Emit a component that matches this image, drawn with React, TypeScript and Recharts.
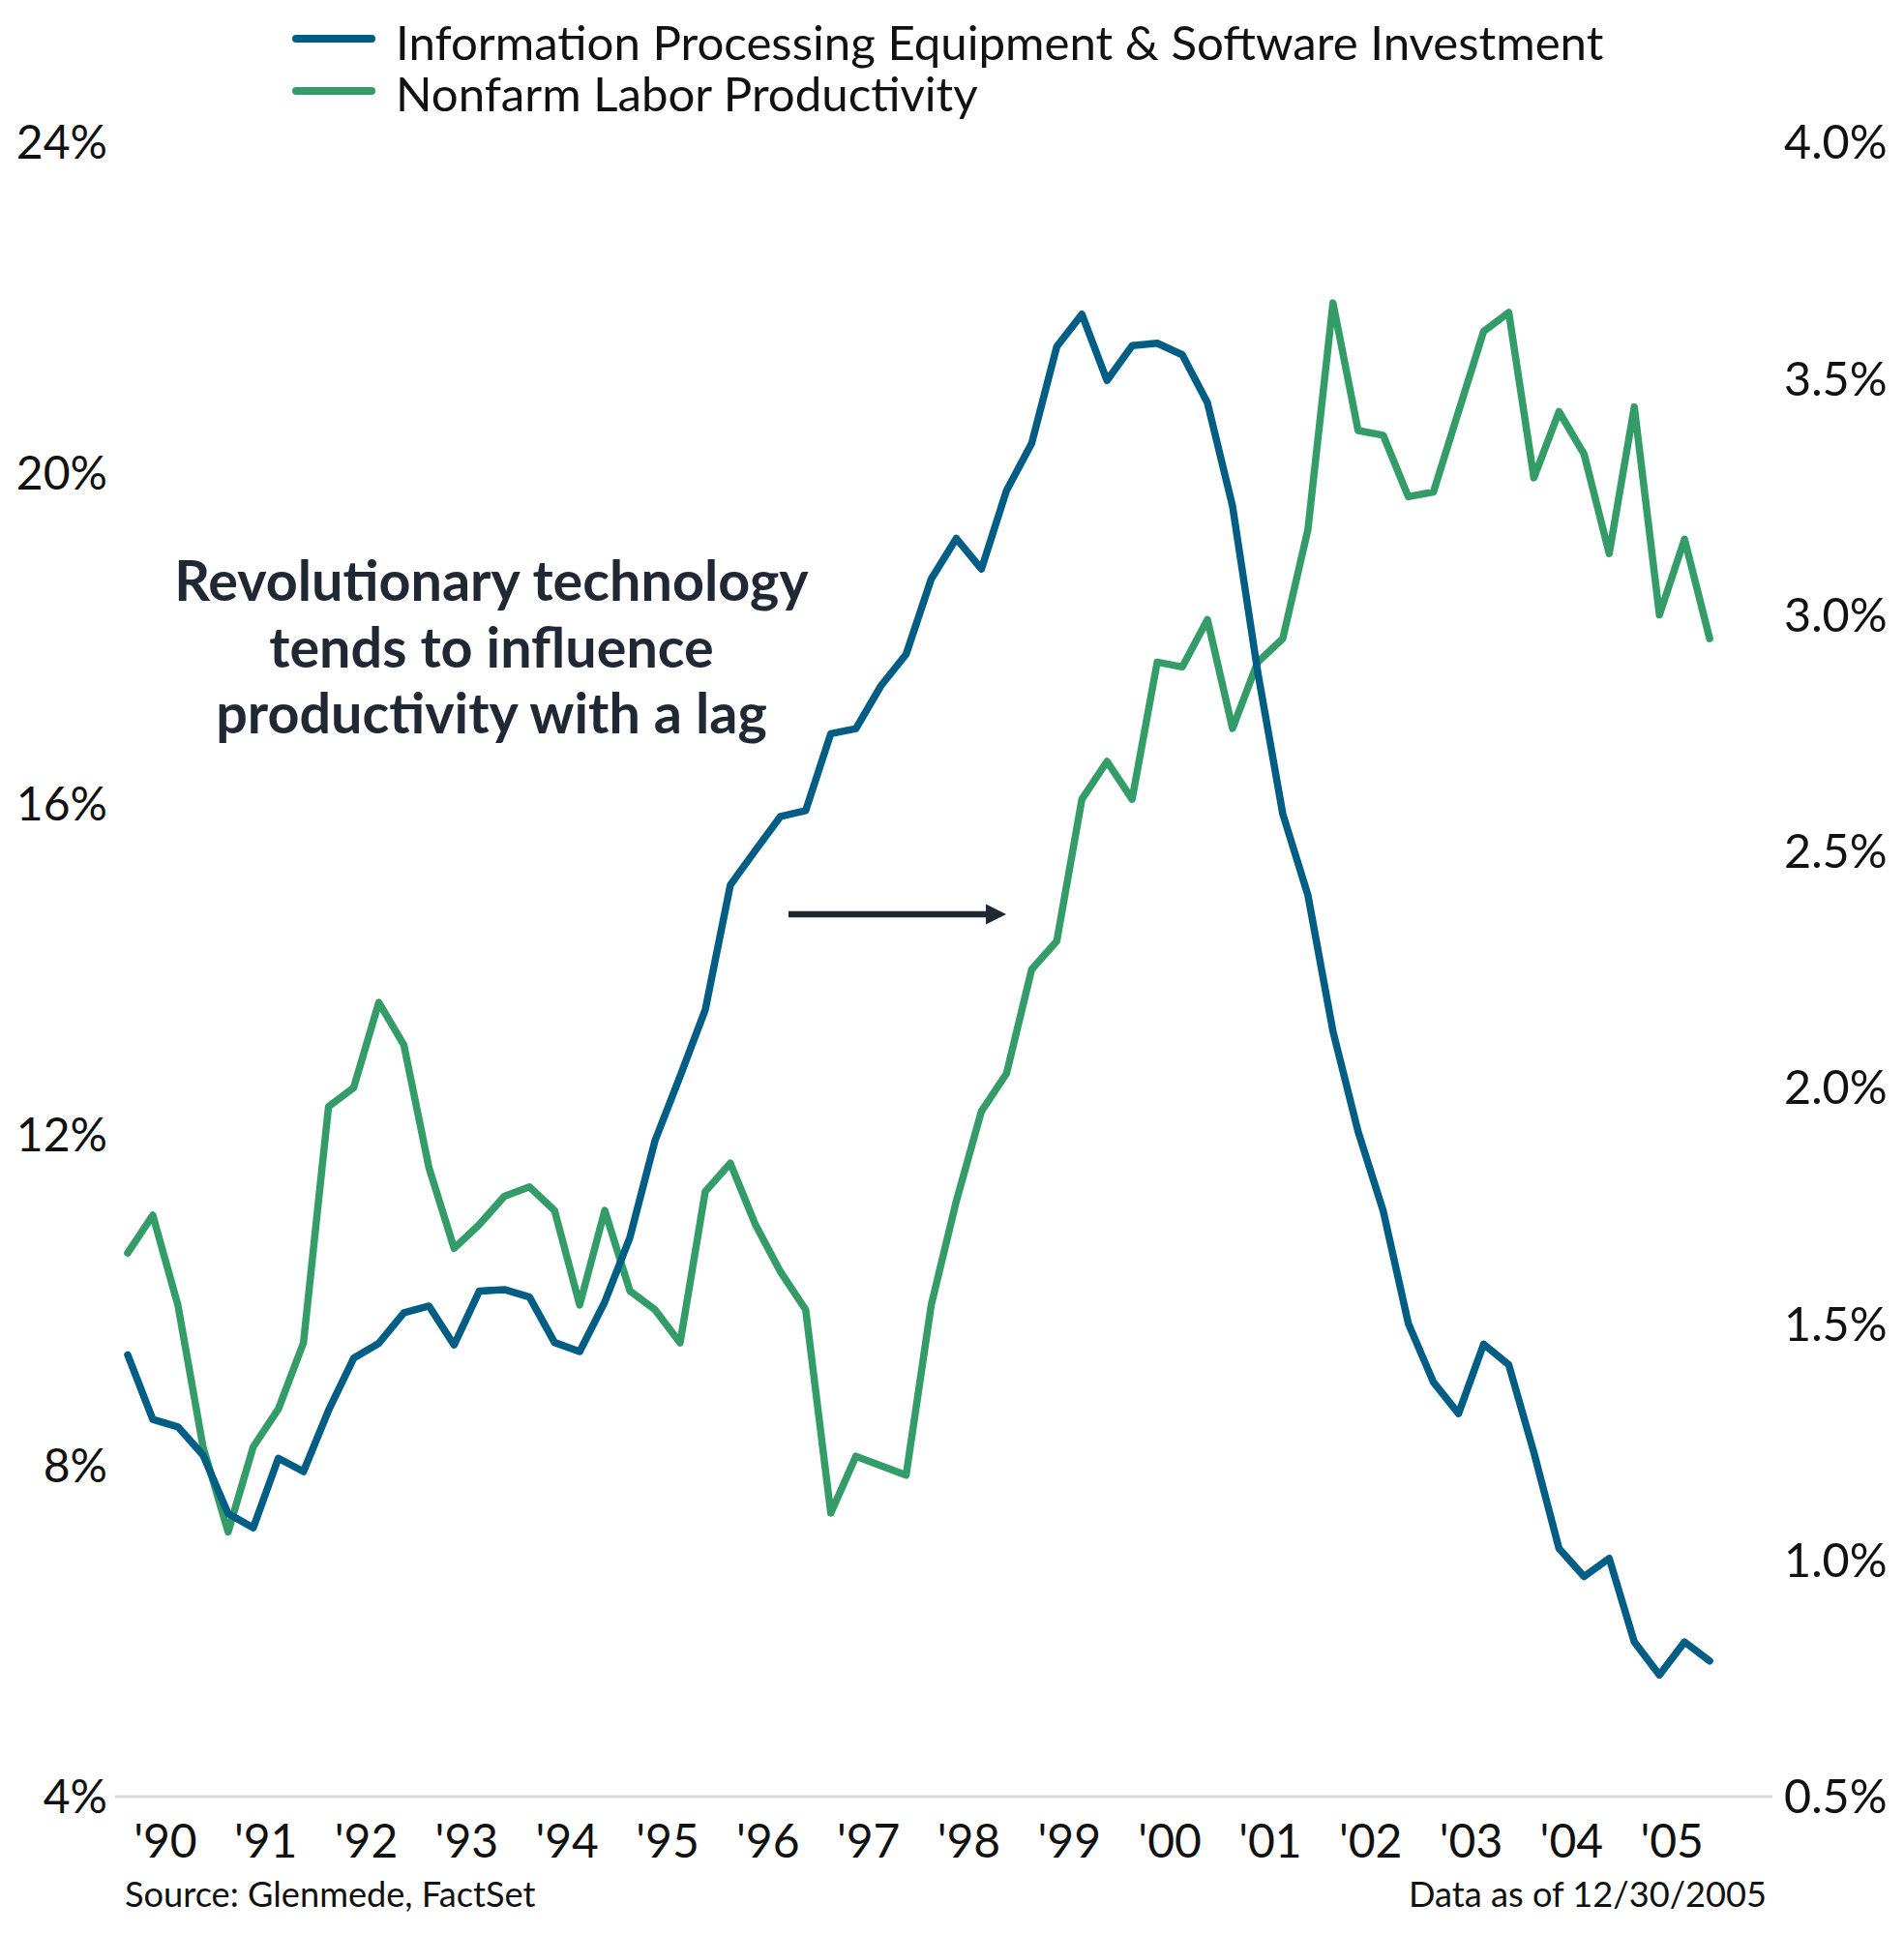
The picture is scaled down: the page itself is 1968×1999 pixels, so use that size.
import React from 'react';
import { LineChart, Line, XAxis, YAxis } from 'recharts';

// Year labels (one per calendar year, four quarters each)
const yearLabels = ["'90", "'91", "'92", "'93", "'94", "'95", "'96", "'97", "'98", "'99", "'00", "'01", "'02", "'03", "'04", "'05"];

// Information Processing Equipment & Software Investment, % (left axis), quarterly 1990Q1-2005Q4
const itInvestment = [
  9.34, 8.56, 8.47, 8.13, 7.42, 7.25, 8.09, 7.93,
  8.67, 9.30, 9.48, 9.85, 9.93, 9.46, 10.11, 10.13,
  10.04, 9.49, 9.38, 9.98, 10.76, 11.93, 12.71, 13.51,
  15.02, 15.44, 15.85, 15.92, 16.85, 16.91, 17.43, 17.81,
  18.72, 19.21, 18.84, 19.79, 20.36, 21.53, 21.92, 21.12,
  21.54, 21.57, 21.43, 20.85, 19.60, 17.6, 15.88, 14.90,
  13.25, 12.04, 11.08, 9.72, 9.01, 8.63, 9.47, 9.22,
  8.16, 7.00, 6.66, 6.88, 5.87, 5.47, 5.87, 5.64,
];

// Nonfarm Labor Productivity, % (right axis), quarterly 1990Q1-2005Q4
const productivity = [
  1.65, 1.73, 1.54, 1.24, 1.06, 1.24, 1.32, 1.46,
  1.96, 2.00, 2.18, 2.09, 1.83, 1.66, 1.71, 1.77,
  1.79, 1.74, 1.54, 1.74, 1.57, 1.53, 1.46, 1.78,
  1.84, 1.71, 1.61, 1.53, 1.10, 1.22, 1.20, 1.18,
  1.54, 1.76, 1.95, 2.03, 2.25, 2.31, 2.61, 2.69,
  2.61, 2.90, 2.89, 2.99, 2.76, 2.90, 2.95, 3.18,
  3.66, 3.39, 3.38, 3.25, 3.26, 3.43, 3.60, 3.64,
  3.29, 3.43, 3.34, 3.13, 3.44, 3.00, 3.16, 2.95,
];

const leftTicks = [4, 8, 12, 16, 20, 24];
const rightTicks = [0.5, 1.0, 1.5, 2.0, 2.5, 3.0, 3.5, 4.0];

const seriesNames = ['Information Processing Equipment & Software Investment', 'Nonfarm Labor Productivity'];
const annotationLines = ['Revolutionary technology', 'tends to influence', 'productivity with a lag'];

const BLUE = '#005E85';
const GREEN = '#349C68';
const DARK = '#1F2833';
const FONT = 'Lato, "DejaVu Sans", sans-serif';

// quarter position: each quarter sits in the middle of its quarter-band
const data = itInvestment.map((v, i) => ({ q: i + 0.5, it: v, prod: productivity[i] }));
const yearBoundaryTicks = yearLabels.map((_, i) => (i + 1) * 4);
const yearCenterTicks = yearLabels.map((_, i) => i * 4 + 2);

export default function App() {
  return (
    <div style={{ position: 'relative', width: 1968, height: 1999, background: '#fff' }}>
      <style>{`body{margin:0;background:#fff}`}</style>
      <LineChart
        width={1968}
        height={1999}
        data={data}
        margin={{ top: 147, right: 0, bottom: 62, left: 0 }}
      >
        <XAxis
          xAxisId="q"
          dataKey="q"
          type="number"
          domain={[0, 66]}
          ticks={yearBoundaryTicks}
          tick={false}
          tickSize={11}
          tickLine={{ stroke: '#e0e0e0', strokeWidth: 2 }}
          axisLine={{ stroke: '#d9d9d9', strokeWidth: 3 }}
          height={20}
          allowDataOverflow
        />
        <XAxis
          xAxisId="yr"
          dataKey="q"
          type="number"
          domain={[0, 66]}
          ticks={yearCenterTicks}
          tickFormatter={(v: number) => yearLabels[Math.floor(v / 4)]}
          axisLine={false}
          tickLine={false}
          tickSize={6}
          tickMargin={3}
          interval={0}
          height={60}
          tick={{ fontSize: 48, fontFamily: FONT, fill: '#111' }}
          allowDataOverflow
        />
        <YAxis
          yAxisId="left"
          orientation="left"
          domain={[4, 24]}
          ticks={leftTicks}
          tickFormatter={(v: number) => `${v}%`}
          axisLine={false}
          tickLine={false}
          width={119}
          interval={0}
          tick={{ fontSize: 48, fontFamily: FONT, fill: '#111' }}
          allowDataOverflow
        />
        <YAxis
          yAxisId="right"
          orientation="right"
          domain={[0.5, 4]}
          ticks={rightTicks}
          tickFormatter={(v: number) => `${v.toFixed(1)}%`}
          axisLine={false}
          tickLine={false}
          tickMargin={6}
          width={136}
          interval={0}
          tick={{ fontSize: 48.5, fontFamily: FONT, fill: '#111' }}
          allowDataOverflow
        />
        <Line
          xAxisId="q"
          yAxisId="right"
          dataKey="prod"
          name={seriesNames[1]}
          stroke={GREEN}
          strokeWidth={7.5}
          strokeLinejoin="round"
          strokeLinecap="round"
          dot={false}
          activeDot={false}
          isAnimationActive={false}
        />
        <Line
          xAxisId="q"
          yAxisId="left"
          dataKey="it"
          name={seriesNames[0]}
          stroke={BLUE}
          strokeWidth={7.5}
          strokeLinejoin="round"
          strokeLinecap="round"
          dot={false}
          activeDot={false}
          isAnimationActive={false}
        />
      </LineChart>
      <svg
        width={1968}
        height={1999}
        style={{ position: 'absolute', left: 0, top: 0, pointerEvents: 'none' }}
      >
        {/* legend */}
        <line x1={306} y1={40} x2={384} y2={40} stroke={BLUE} strokeWidth={8} strokeLinecap="round" />
        <line x1={306} y1={94} x2={384} y2={94} stroke={GREEN} strokeWidth={8} strokeLinecap="round" />
        <text fontSize={49.2} fontFamily={FONT} fill="#111">
          <tspan x={409} y={62}>{seriesNames[0]}</tspan>
          <tspan x={409} y={115}>{seriesNames[1]}</tspan>
        </text>

        {/* annotation */}
        <text textAnchor="middle" fontSize={57.5} fontWeight={700} fontFamily={FONT} fill={DARK}>
          {annotationLines.map((t, i) => (
            <tspan key={t} x={508} y={621 + i * 68.5}>
              {t}
            </tspan>
          ))}
        </text>
        <line x1={815} y1={945} x2={1022} y2={945} stroke={DARK} strokeWidth={6.5} />
        <polygon points="1040,945 1019,934.5 1019,955.5" fill={DARK} />

        {/* footnotes */}
        <text x={129} y={1971} fontSize={36.2} fontFamily={FONT} fill="#111">Source: Glenmede, FactSet</text>
        <text x={1826} y={1971} fontSize={36.2} fontFamily={FONT} fill="#111" textAnchor="end">Data as of 12/30/2005</text>
      </svg>
    </div>
  );
}
